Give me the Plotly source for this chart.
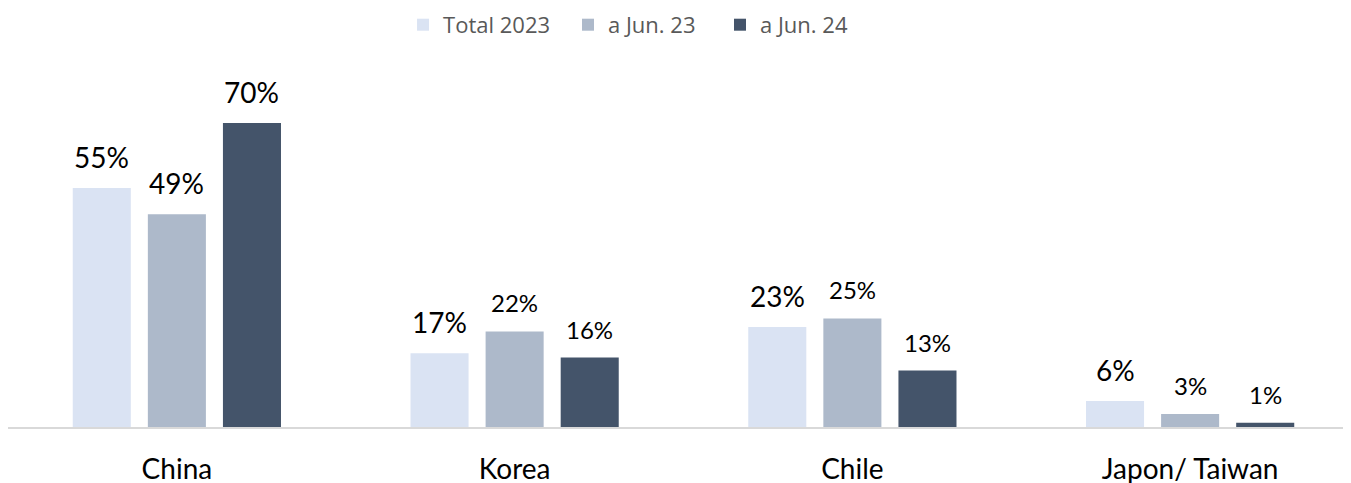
import plotly.graph_objects as go

categories = ["China", "Korea", "Chile", "Japon/ Taiwan"]
series_names = ["Total 2023", "a Jun. 23", "a Jun. 24"]
total_2023 = [55, 17, 23, 6]
jun_23 = [49, 22, 25, 3]
jun_24 = [70, 16, 13, 1]
label_sizes = [
    [28, 28, 28, 28],
    [28, 24, 24, 24],
    [28, 24, 24, 24],
]
colors = ["#DAE3F3", "#ADB9CA", "#44546A"]
legend_ids = ["legend", "legend2", "legend3"]
legend_x = [0.2924, 0.4145, 0.527]

bargap = 0.333
bargroupgap = 0.227
n_series = len(series_names)
slot = (1 - bargap) / n_series

fig = go.Figure()
series_vals = [total_2023, jun_23, jun_24]
for s, (name, vals, col, sizes) in enumerate(zip(series_names, series_vals, colors, label_sizes)):
    fig.add_trace(go.Bar(
        x=categories, y=vals, name=name,
        marker=dict(color=col, line=dict(width=0)),
        cliponaxis=False, legend=legend_ids[s], showlegend=True,
    ))
    off = (s - (n_series - 1) / 2) * slot
    for i, v in enumerate(vals):
        fig.add_annotation(
            x=i + off, y=v, xref="x", yref="y",
            text=f"{v}%", showarrow=False,
            xanchor="center", yanchor="bottom", yshift=12,
            font=dict(family="Lato, Calibri, sans-serif", size=sizes[i], color="#000000"),
        )

legend_style = dict(orientation="h", xanchor="left", y=0.965, yanchor="middle",
                    yref="container", bgcolor="rgba(0,0,0,0)",
                    font=dict(family="Open Sans, sans-serif", size=22, color="#595959"),
                    itemwidth=30)
legends = {lid: dict(legend_style, x=lx) for lid, lx in zip(legend_ids, legend_x)}

fig.update_layout(
    width=1351, height=483,
    showlegend=True,
    margin=dict(l=0, r=0, t=52, b=64),
    paper_bgcolor="white", plot_bgcolor="white",
    barmode="group", bargap=bargap, bargroupgap=bargroupgap,
    xaxis=dict(range=[-0.5, 3.5], showline=True, linecolor="#D9D9D9", linewidth=2,
               ticks="", ticklabelstandoff=16,
               tickfont=dict(family="Lato, Calibri, sans-serif", size=28, color="#000000"),
               showgrid=False),
    yaxis=dict(range=[0, 84.5], visible=False, showgrid=False, zeroline=False),
    **legends,
)

fig.write_html("out.html")
